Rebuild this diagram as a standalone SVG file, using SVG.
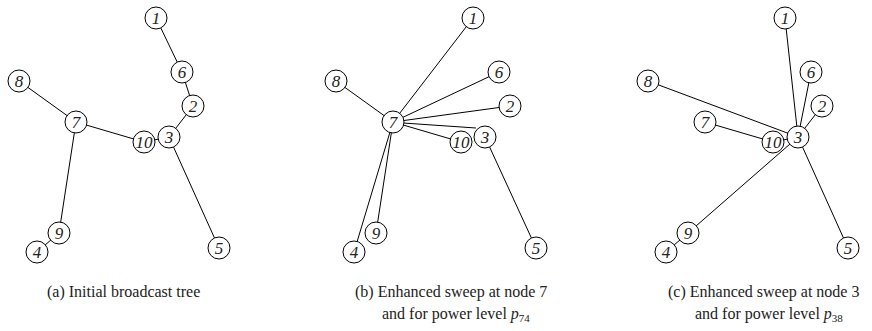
<svg xmlns="http://www.w3.org/2000/svg" width="872" height="331" viewBox="0 0 872 331">
<style>
.n circle{fill:#fff;stroke:#000;stroke-width:1}
.n text{font-family:"Times New Roman","Liberation Serif",serif;font-style:italic;font-size:17px;text-anchor:middle;fill:#222}
.cap{font-family:"Times New Roman","Liberation Serif",serif;font-size:16px;fill:#222}
</style>
<rect width="872" height="331" fill="#fff"/>
<g id="connectors" stroke="#000" stroke-width="1" fill="none">
<line x1="156" y1="18" x2="182" y2="72"/>
<line x1="182" y1="72" x2="193" y2="106"/>
<line x1="193" y1="106" x2="169" y2="137"/>
<line x1="169" y1="137" x2="144" y2="142"/>
<line x1="144" y1="142" x2="76" y2="122"/>
<line x1="76" y1="122" x2="19" y2="81"/>
<line x1="76" y1="122" x2="59" y2="233"/>
<line x1="59" y1="233" x2="37" y2="252"/>
<line x1="169" y1="137" x2="219" y2="248"/>
<line x1="393" y1="122" x2="473" y2="18"/>
<line x1="393" y1="122" x2="499" y2="72"/>
<line x1="393" y1="122" x2="510" y2="106"/>
<line x1="403" y1="123" x2="476" y2="128"/>
<line x1="393" y1="122" x2="461" y2="142"/>
<line x1="393" y1="122" x2="336" y2="81"/>
<line x1="393" y1="122" x2="376" y2="233"/>
<line x1="393" y1="122" x2="354" y2="252"/>
<line x1="485" y1="137" x2="536" y2="248"/>
<line x1="798" y1="137" x2="785" y2="18"/>
<line x1="798" y1="137" x2="811" y2="72"/>
<line x1="798" y1="137" x2="822" y2="106"/>
<line x1="798" y1="137" x2="648" y2="81"/>
<line x1="798" y1="137" x2="773" y2="142"/>
<line x1="773" y1="142" x2="705" y2="122"/>
<line x1="798" y1="137" x2="688" y2="233"/>
<line x1="688" y1="233" x2="666" y2="252"/>
<line x1="798" y1="137" x2="848" y2="248"/>
</g>
<g id="a1" class="n"><circle cx="156" cy="18" r="11"/><text x="156" y="24">1</text></g>
<g id="a6" class="n"><circle cx="182" cy="72" r="11"/><text x="182" y="78">6</text></g>
<g id="a2" class="n"><circle cx="193" cy="106" r="11"/><text x="193" y="112">2</text></g>
<g id="a3" class="n"><circle cx="169" cy="137" r="11"/><text x="169" y="143">3</text></g>
<g id="a10" class="n"><circle cx="144" cy="142" r="11"/><text x="144" y="148">10</text></g>
<g id="a7" class="n"><circle cx="76" cy="122" r="11"/><text x="76" y="128">7</text></g>
<g id="a8" class="n"><circle cx="19" cy="81" r="11"/><text x="19" y="87">8</text></g>
<g id="a9" class="n"><circle cx="59" cy="233" r="11"/><text x="59" y="239">9</text></g>
<g id="a4" class="n"><circle cx="37" cy="252" r="11"/><text x="37" y="258">4</text></g>
<g id="a5" class="n"><circle cx="219" cy="248" r="11"/><text x="219" y="254">5</text></g>
<g id="b1" class="n"><circle cx="473" cy="18" r="11"/><text x="473" y="24">1</text></g>
<g id="b6" class="n"><circle cx="499" cy="72" r="11"/><text x="499" y="78">6</text></g>
<g id="b2" class="n"><circle cx="510" cy="106" r="11"/><text x="510" y="112">2</text></g>
<g id="b3" class="n"><circle cx="485" cy="137" r="11"/><text x="485" y="143">3</text></g>
<g id="b10" class="n"><circle cx="461" cy="142" r="11"/><text x="461" y="148">10</text></g>
<g id="b7" class="n"><circle cx="393" cy="122" r="11"/><text x="393" y="128">7</text></g>
<g id="b8" class="n"><circle cx="336" cy="81" r="11"/><text x="336" y="87">8</text></g>
<g id="b9" class="n"><circle cx="376" cy="233" r="11"/><text x="376" y="239">9</text></g>
<g id="b4" class="n"><circle cx="354" cy="252" r="11"/><text x="354" y="258">4</text></g>
<g id="b5" class="n"><circle cx="536" cy="248" r="11"/><text x="536" y="254">5</text></g>
<g id="c1" class="n"><circle cx="785" cy="18" r="11"/><text x="785" y="24">1</text></g>
<g id="c6" class="n"><circle cx="811" cy="72" r="11"/><text x="811" y="78">6</text></g>
<g id="c2" class="n"><circle cx="822" cy="106" r="11"/><text x="822" y="112">2</text></g>
<g id="c3" class="n"><circle cx="798" cy="137" r="11"/><text x="798" y="143">3</text></g>
<g id="c10" class="n"><circle cx="773" cy="142" r="11"/><text x="773" y="148">10</text></g>
<g id="c7" class="n"><circle cx="705" cy="122" r="11"/><text x="705" y="128">7</text></g>
<g id="c8" class="n"><circle cx="648" cy="81" r="11"/><text x="648" y="87">8</text></g>
<g id="c9" class="n"><circle cx="688" cy="233" r="11"/><text x="688" y="239">9</text></g>
<g id="c4" class="n"><circle cx="666" cy="252" r="11"/><text x="666" y="258">4</text></g>
<g id="c5" class="n"><circle cx="848" cy="248" r="11"/><text x="848" y="254">5</text></g>
<g id="captions">
<text class="cap" x="47" y="297">(a) Initial broadcast tree</text>
<text class="cap" x="355" y="297">(b) Enhanced sweep at node 7</text>
<text class="cap" x="382" y="319">and for power level <tspan font-style="italic">p</tspan><tspan font-size="11" dy="3">74</tspan></text>
<text class="cap" x="668" y="297">(c) Enhanced sweep at node 3</text>
<text class="cap" x="695" y="319">and for power level <tspan font-style="italic">p</tspan><tspan font-size="11" dy="3">38</tspan></text>
</g>
</svg>
